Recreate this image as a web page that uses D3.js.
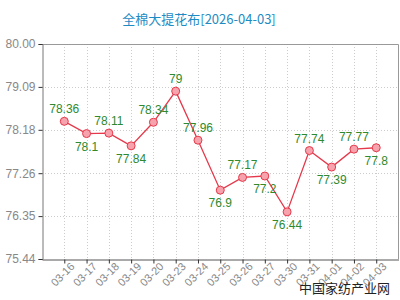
<!DOCTYPE html>
<html>
<head>
<meta charset="utf-8">
<script src="https://cdn.jsdelivr.net/npm/d3@7"></script>
<style>
  body { margin: 0; background: #fff; }
  svg { display: block; font-family: "Liberation Sans", Arial, sans-serif; }
</style>
</head>
<body>
<svg width="400" height="300"></svg>
<script>
let dates = ['03-16', '03-17', '03-18', '03-19', '03-20', '03-23', '03-24', '03-25',
  '03-26', '03-27', '03-30', '03-31', '04-01', '04-02', '04-03'];
let prices = [78.36, 78.1, 78.11, 77.84, 78.34, 79, 77.96, 76.9, 77.17, 77.2, 76.44, 77.74, 77.39, 77.77, 77.8];
let yTicks = ['75.44', '76.35', '77.26', '78.18', '79.09', '80.00'];
// which value labels sit under their point
let labelBelow = [false, true, false, true, false, false, false, true, false, true, true, false, true, false, true];

let plotLeft = 42, plotRight = 398.5, plotTop = 44, plotBottom = 259;

let svg = d3.select('svg');

let x = d3.scalePoint().domain(dates).range([plotLeft, plotRight]).padding(1);
let y = d3.scaleLinear().domain([75.44, 80]).range([plotBottom, plotTop]);

// title
svg.append('text')
  .attr('x', 199)
  .attr('y', 24)
  .attr('text-anchor', 'middle')
  .style('font-family', '"Noto Sans CJK SC", sans-serif')
  .style('font-size', '13px')
  .style('fill', '#1e8bc3')
  .text('全棉大提花布[2026-04-03]');

// grid
let grid = svg.append('g');
grid.selectAll('line.v')
  .data(dates)
  .join('line')
  .attr('class', 'v')
  .attr('x1', d => Math.round(x(d)) + 0.5)
  .attr('x2', d => Math.round(x(d)) + 0.5)
  .attr('y1', plotTop)
  .attr('y2', plotBottom)
  .style('stroke', '#ccc')
  .style('stroke-dasharray', '1,2');

grid.selectAll('line.h')
  .data(yTicks.slice(1, -1))
  .join('line')
  .attr('class', 'h')
  .attr('x1', plotLeft)
  .attr('x2', plotRight)
  .attr('y1', d => Math.round(y(+d)) + 0.5)
  .attr('y2', d => Math.round(y(+d)) + 0.5)
  .style('stroke', '#ccc')
  .style('stroke-dasharray', '1,2');

// frame
svg.append('path')
  .attr('d', `M${plotLeft},${plotTop + 0.5}H${plotRight}V${plotBottom}`)
  .style('fill', 'none')
  .style('stroke', '#999');

// y axis
let yAxis = svg.append('g')
  .attr('transform', `translate(${plotLeft + 0.5},0)`)
  .call(d3.axisLeft(y).tickValues(yTicks.map(Number)).tickFormat(d3.format('.2f')).tickSize(4).tickPadding(3));
yAxis.select('.domain').style('stroke', '#777');
yAxis.selectAll('.tick line').style('stroke', '#333');
yAxis.selectAll('text')
  .style('font-size', '12px')
  .style('fill', '#888');

// x axis
let xAxis = svg.append('g')
  .attr('transform', `translate(0,${plotBottom + 0.5})`)
  .call(d3.axisBottom(x).tickSize(4).tickSizeOuter(0));
xAxis.select('.domain').style('stroke', '#555');
xAxis.selectAll('.tick line').style('stroke', '#333');
xAxis.selectAll('text')
  .attr('text-anchor', 'end')
  .attr('dy', '0.35em')
  .attr('x', 2)
  .attr('y', 9)
  .attr('transform', 'rotate(-45)')
  .style('font-size', '11px')
  .style('fill', '#888');

// line
let points = dates.map((d, i) => ({ date: d, price: prices[i], below: labelBelow[i] }));

svg.append('path')
  .datum(points)
  .attr('d', d3.line().x(d => x(d.date)).y(d => y(d.price)))
  .style('fill', 'none')
  .style('stroke', '#e5394b')
  .style('stroke-width', 1.3);

svg.selectAll('circle')
  .data(points)
  .join('circle')
  .attr('cx', d => x(d.date))
  .attr('cy', d => y(d.price))
  .attr('r', 4)
  .style('fill', '#f7a3ad')
  .style('stroke', '#e5394b')
  .style('stroke-width', 1);

svg.selectAll('text.val')
  .data(points)
  .join('text')
  .attr('class', 'val')
  .attr('x', d => x(d.date))
  .attr('y', d => y(d.price) + (d.below ? 17 : -8))
  .attr('text-anchor', 'middle')
  .style('font-size', '12px')
  .style('fill', '#2f8a2f')
  .text(d => d.price);

// watermark
svg.append('text')
  .attr('x', 390)
  .attr('y', 293)
  .attr('text-anchor', 'end')
  .style('font-family', '"Noto Sans CJK SC", sans-serif')
  .style('font-size', '13px')
  .style('fill', '#222')
  .text('中国家纺产业网');
</script>
</body>
</html>
